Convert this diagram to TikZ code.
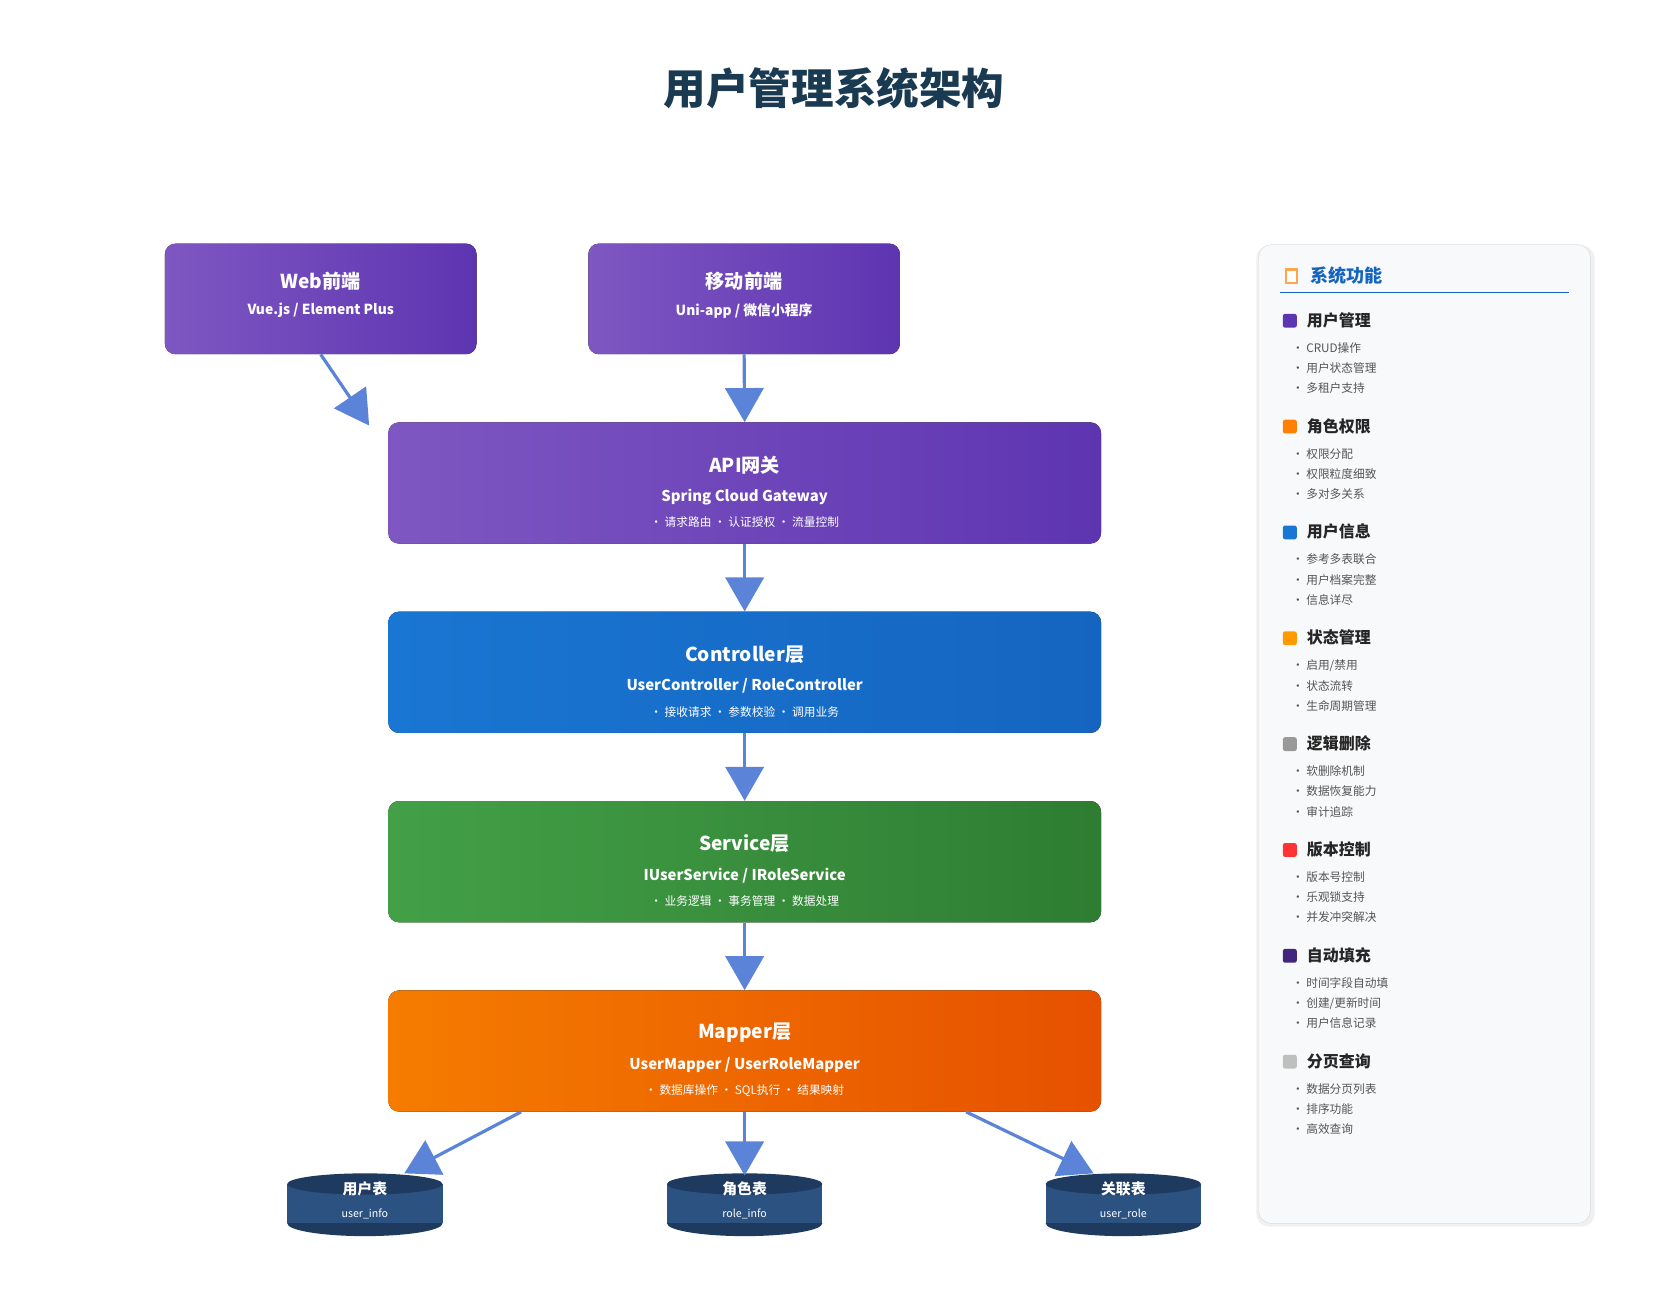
\documentclass[tikz,border=0pt]{standalone}
\usepackage{fontspec}
\setmainfont{Noto Sans CJK SC}
\usetikzlibrary{arrows.meta,positioning}
\definecolor{titlec}{HTML}{1A3A52}
\definecolor{arrowc}{HTML}{5B84D9}
\definecolor{purpleA}{HTML}{7E57C2}
\definecolor{purpleB}{HTML}{5E35B1}
\definecolor{blueA}{HTML}{1976D2}
\definecolor{blueB}{HTML}{1565C0}
\definecolor{greenA}{HTML}{43A047}
\definecolor{greenB}{HTML}{2E7D32}
\definecolor{orangeA}{HTML}{F57C00}
\definecolor{orangeB}{HTML}{E65100}
\definecolor{dbtop}{HTML}{1E3A5F}
\definecolor{dbbody}{HTML}{2C5282}
\definecolor{sidec}{HTML}{F8F9FA}
\definecolor{itemc}{HTML}{555555}
\newcommand{\fsz}[1]{\fontsize{#1}{#1}\selectfont}
\tikzset{
  layer/.style 2 args={rounded corners=10pt, left color=#1, right color=#2, draw=none},
  ttl/.style={text=white, font=\fsz{18}\bfseries},
  sub/.style={text=white, font=\fsz{14}\bfseries},
  bul/.style={text=white, font=\fsz{11}},
  flow/.style={arrowc, line width=3pt, -{Triangle[width=36pt,length=32pt]}},
  sechead/.style={anchor=west, text=black!85, font=\fsz{15}\bfseries},
  secitem/.style={anchor=west, text=itemc, font=\fsz{11}},
}
\begin{document}
\begin{tikzpicture}[x=1pt, y=-1pt]
\useasboundingbox[fill=white] (0,0) rectangle (1568,1232);

\node[text=titlec, font=\fsz{40}\bfseries] (title) at (784,83) {用户管理系统架构};

% clients
\fill[layer={purpleA}{purpleB}] (155,229) rectangle (448,333);
\node (web) [minimum width=293pt, minimum height=104pt] at (301.5,281) {};
\node[ttl] (webt) at (301.5,264) {Web前端};
\node[sub, font=\fsz{13}\bfseries] (webs) at (301.5,292) {Vue.js / Element Plus};
\fill[layer={purpleA}{purpleB}] (553,229) rectangle (846,333);
\node (mob) [minimum width=293pt, minimum height=104pt] at (699.5,281) {};
\node[ttl] (mobt) at (699.5,264) {移动前端};
\node[sub, font=\fsz{13}\bfseries] (mobs) at (699.5,292) {Uni-app / 微信小程序};

% layers
\fill[layer={purpleA}{purpleB}] (365,397) rectangle (1035,511);
\node (api) [minimum width=670pt, minimum height=114pt] at (700,454) {};
\node[ttl] (apit) at (700,437) {API网关};
\node[sub] (apis) at (700,467) {Spring Cloud Gateway};
\node[bul] (apib) at (700,491) {• 请求路由 • 认证授权 • 流量控制};

\fill[layer={blueA}{blueB}] (365,575) rectangle (1035,689);
\node (ctl) [minimum width=670pt, minimum height=114pt] at (700,632) {};
\node[ttl] (ctlt) at (700,615) {Controller层};
\node[sub] (ctls) at (700,645) {UserController / RoleController};
\node[bul] (ctlb) at (700,669) {• 接收请求 • 参数校验 • 调用业务};

\fill[layer={greenA}{greenB}] (365,753) rectangle (1035,867);
\node (svc) [minimum width=670pt, minimum height=114pt] at (700,810) {};
\node[ttl] (svct) at (700,793) {Service层};
\node[sub] (svcs) at (700,823) {IUserService / IRoleService};
\node[bul] (svcb) at (700,847) {• 业务逻辑 • 事务管理 • 数据处理};

\fill[layer={orangeA}{orangeB}] (365,931) rectangle (1035,1045);
\node (map) [minimum width=670pt, minimum height=114pt] at (700,988) {};
\node[ttl] (mapt) at (700,971) {Mapper层};
\node[sub] (maps) at (700,1001) {UserMapper / UserRoleMapper};
\node[bul] (mapb) at (700,1025) {• 数据库操作 • SQL执行 • 结果映射};

% tables
\foreach \n/\cx/\a/\b in {db1/343/用户表/user\_info, db2/700/角色表/role\_info, db3/1056/关联表/user\_role} {
  \fill[dbtop] (\cx,1150) ellipse (73pt and 12pt);
  \fill[dbbody] (\cx-73,1113) rectangle (\cx+73,1150);
  \fill[dbtop] (\cx,1113) ellipse (73pt and 10pt);
  \coordinate (\n) at (\cx,1105);
  \node[text=white, font=\fsz{14}\bfseries] (\n t) at (\cx,1118) {\a};
  \node[text=white, font=\fsz{10}] (\n s) at (\cx,1141) {\b};
}

% connectors
\coordinate (apiw) at (347,400);
\draw[flow] (web.south) -- (apiw);
\draw[flow] (mob.south) -- (api.north);
\draw[flow] (api.south) -- (ctl.north);
\draw[flow] (ctl.south) -- (svc.north);
\draw[flow] (svc.south) -- (map.north);
\draw[flow] ([xshift=125pt]map.south west) -- ([xshift=37pt,yshift=2pt]db1);
\draw[flow] (map.south) -- (db2);
\draw[flow] ([xshift=-127pt]map.south east) -- ([xshift=-28pt,yshift=2pt]db3);

% side panel
\fill[black!6, rounded corners=12pt] (1181,231) rectangle (1499,1153);
\draw[black!15, fill=sidec, rounded corners=12pt] (1183,230) rectangle (1495,1150);
\node[anchor=west, text=blueB, font=\fsz{17}\bfseries] (side) at (1228,259) {系统功能};
\fill[orange!70] (1208,252) rectangle (1220,267);
\fill[white] (1210,255) rectangle (1218,265);
\draw[blueB, line width=1.5pt] (1203,275) -- (1475,275);
\foreach \k/\h/\i/\j/\l/\c in {
  0/用户管理/CRUD操作/用户状态管理/多租户支持/purpleB,
  1/角色权限/权限分配/权限粒度细致/多对多关系/orange,
  2/用户信息/参考多表联合/用户档案完整/信息详尽/blueA,
  3/状态管理/{启用/禁用}/状态流转/生命周期管理/orange!80!yellow,
  4/逻辑删除/软删除机制/数据恢复能力/审计追踪/black!40,
  5/版本控制/版本号控制/乐观锁支持/并发冲突解决/red!80,
  6/自动填充/时间字段自动填/{创建/更新时间}/用户信息记录/purpleB!70!black,
  7/分页查询/数据分页列表/排序功能/高效查询/black!25} {
  \pgfmathsetmacro{\yy}{301+99.5*\k}
  \fill[\c, rounded corners=2pt] (1206,\yy-6) rectangle (1219,\yy+7);
  \node[sechead] (s\k) at (1225,\yy) {\h};
  \node[secitem] (s\k a) at (1211,\yy+26) {• \i};
  \node[secitem] (s\k b) at (1211,\yy+45) {• \j};
  \node[secitem] (s\k c) at (1211,\yy+64) {• \l};
}
\end{tikzpicture}
\end{document}
